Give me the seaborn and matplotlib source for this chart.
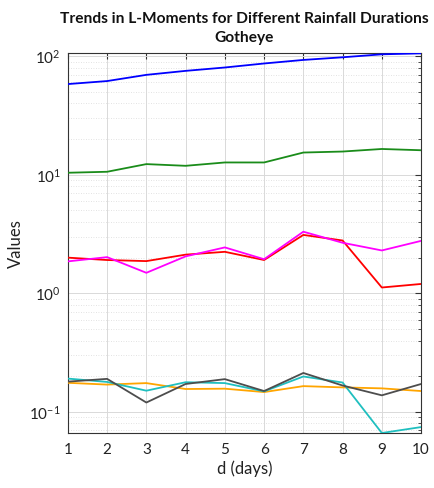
import matplotlib
matplotlib.use("Agg")
import matplotlib.pyplot as plt
import matplotlib.ticker as mticker
import numpy as np
import pandas as pd
import seaborn as sns

# Rainfall duration (days)
durations = [1, 2, 3, 4, 5, 6, 7, 8, 9, 10]

# L-moment statistics per duration
l1 = [58.2, 61.7, 69.6, 75.2, 80.3, 86.8, 93.0, 97.9, 103.7, 105.7]
l2 = [10.4, 10.6, 12.3, 11.9, 12.7, 12.7, 15.4, 15.7, 16.5, 16.1]
l3 = [2.00, 1.91, 1.87, 2.12, 2.24, 1.91, 3.11, 2.79, 1.12, 1.20]
l4 = [1.86, 2.02, 1.49, 2.05, 2.44, 1.94, 3.31, 2.67, 2.30, 2.77]
t_cv = [0.176, 0.170, 0.175, 0.156, 0.157, 0.147, 0.165, 0.161, 0.158, 0.150]
t3 = [0.191, 0.179, 0.151, 0.178, 0.175, 0.149, 0.199, 0.177, 0.0664, 0.0745]
t4 = [0.180, 0.190, 0.120, 0.172, 0.189, 0.150, 0.213, 0.167, 0.138, 0.172]

series = {"l1": l1, "l2": l2, "l3": l3, "l4": l4, "t": t_cv, "t3": t3, "t4": t4}
colors = {"l1": "#0000ff", "l2": "#1a8c1a", "l3": "#ff0000", "l4": "#ff00ff",
          "t": "#ffa500", "t3": "#1fbfbf", "t4": "#4d4d4d"}

df = pd.DataFrame([
    {"d": d, "stat": name, "value": v}
    for name, vals in series.items() for d, v in zip(durations, vals)
])

sns.set_style("white")
plt.rcParams["font.family"] = ["Lato", "DejaVu Sans"]

fig = plt.figure(figsize=(4.35, 4.88), dpi=100)
ax = fig.add_axes([0.156, 0.1127, 0.812, 0.778])

sns.lineplot(data=df, x="d", y="value", hue="stat", palette=colors,
             linewidth=1.3, legend=False, ax=ax, zorder=3)

ax.set_yscale("log")
ax.set_xlim(1, 10)
all_vals = np.concatenate([np.asarray(v) for v in series.values()])
ax.set_ylim(all_vals.min(), all_vals.max())
ax.set_xticks(durations)
ax.yaxis.set_major_locator(mticker.LogLocator(base=10, numticks=10))
ax.yaxis.set_minor_locator(mticker.LogLocator(base=10, subs=np.arange(2, 10), numticks=20))
ax.yaxis.set_minor_formatter(mticker.NullFormatter())

ax.grid(True, which="major", color="#d9d9d9", linewidth=0.7, zorder=0)
ax.grid(True, which="minor", axis="y", color="#d9d9d9", linestyle=(0, (1, 2)),
        linewidth=0.6, zorder=0)

for side in ["top", "right", "bottom", "left"]:
    ax.spines[side].set_visible(True)
    ax.spines[side].set_color("#333333")
    ax.spines[side].set_linewidth(0.8)

ax.tick_params(which="both", direction="in", top=True, right=True,
               colors="#333333", labelcolor="#222222", labelsize=11)
ax.tick_params(which="major", length=4)
ax.tick_params(which="minor", length=2)
ax.tick_params(axis="x", pad=7)
ax.tick_params(axis="y", pad=5)

ax.set_xlabel("d (days)", fontsize=12, color="#222222", labelpad=3)
ax.set_ylabel("Values", fontsize=12, color="#222222", labelpad=4)
ax.set_title("Trends in L-Moments for Different Rainfall Durations\nGotheye",
             fontsize=11.2, fontweight="bold", color="#111111", pad=8,
             linespacing=1.45)

fig.savefig("out.png", dpi=100)
